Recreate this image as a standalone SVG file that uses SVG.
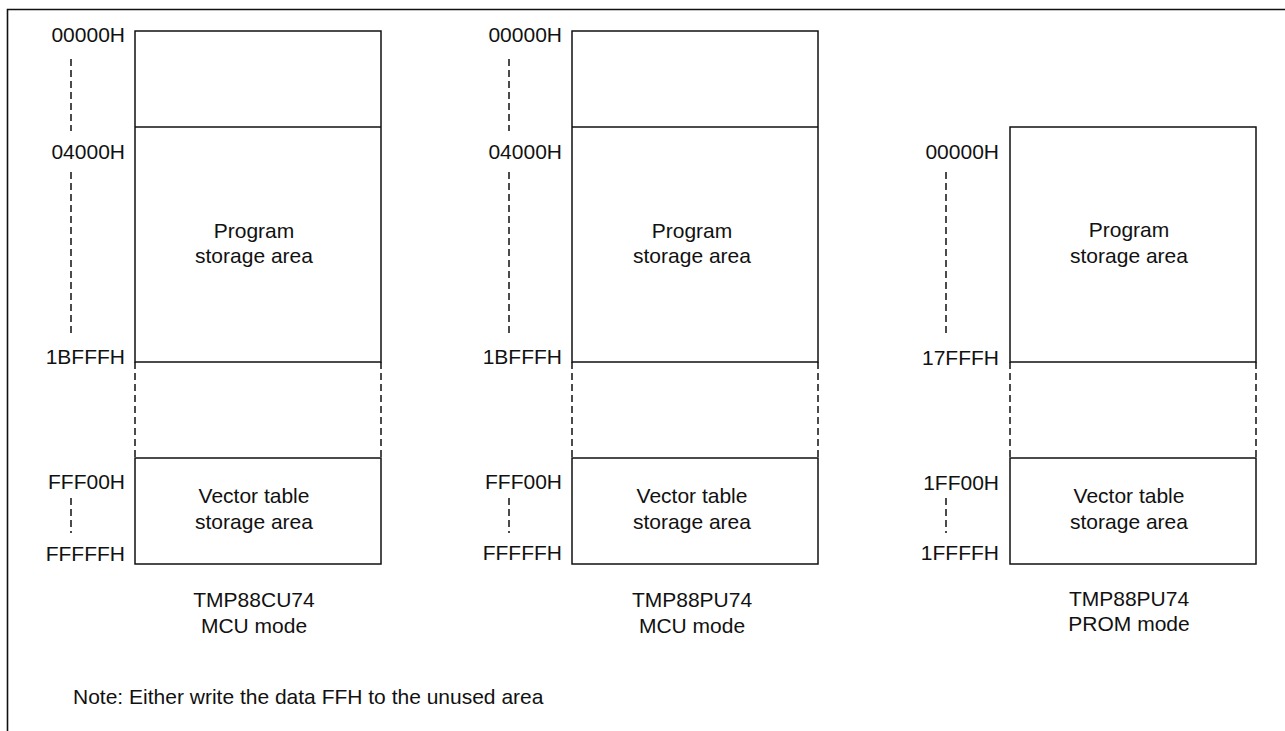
<svg xmlns="http://www.w3.org/2000/svg" width="1285" height="731" viewBox="0 0 1285 731">
<style>
text{font-family:"Liberation Sans",Arial,sans-serif;font-size:21px;fill:#111}
.r{text-anchor:end}
.c{text-anchor:middle}
.box{fill:none;stroke:#111;stroke-width:1.5}
.dash{fill:none;stroke:#111;stroke-width:1.5;stroke-dasharray:7 4}
.frame{fill:none;stroke:#111;stroke-width:1.6}
</style>
<rect width="1285" height="731" fill="#fff"/>
<path class="frame" d="M7.5 731V9.5H1285"/>

<g id="map1">
<rect class="box" x="135" y="31" width="246" height="331"/>
<line class="box" x1="135" y1="127" x2="381" y2="127"/>
<rect class="box" x="135" y="458" width="246" height="106"/>
<path class="dash" d="M135 362V458M381 362V458"/>
<path class="dash" d="M71 59V131M71 172V337M71 498V533"/>
<text class="r" x="125" y="42">00000H</text>
<text class="r" x="125" y="159">04000H</text>
<text class="r" x="125" y="364">1BFFFH</text>
<text class="r" x="125" y="489">FFF00H</text>
<text class="r" x="125" y="561">FFFFFH</text>
<text class="c" x="254" y="238">Program</text>
<text class="c" x="254" y="263">storage area</text>
<text class="c" x="254" y="503">Vector table</text>
<text class="c" x="254" y="529">storage area</text>
<text class="c" x="254" y="607">TMP88CU74</text>
<text class="c" x="254" y="633">MCU mode</text>
</g>

<g id="map2">
<rect class="box" x="572" y="31" width="246" height="331"/>
<line class="box" x1="572" y1="127" x2="818" y2="127"/>
<rect class="box" x="572" y="458" width="246" height="106"/>
<path class="dash" d="M572 362V458M818 362V458"/>
<path class="dash" d="M509 59V131M509 172V337M509 498V533"/>
<text class="r" x="562" y="42">00000H</text>
<text class="r" x="562" y="159">04000H</text>
<text class="r" x="562" y="364">1BFFFH</text>
<text class="r" x="562" y="489">FFF00H</text>
<text class="r" x="562" y="560">FFFFFH</text>
<text class="c" x="692" y="238">Program</text>
<text class="c" x="692" y="263">storage area</text>
<text class="c" x="692" y="503">Vector table</text>
<text class="c" x="692" y="529">storage area</text>
<text class="c" x="692" y="607">TMP88PU74</text>
<text class="c" x="692" y="633">MCU mode</text>
</g>

<g id="map3">
<rect class="box" x="1010" y="127" width="246" height="235"/>
<rect class="box" x="1010" y="458" width="246" height="106"/>
<path class="dash" d="M1010 362V458M1256 362V458"/>
<path class="dash" d="M946 172V337M946 498V533"/>
<text class="r" x="999" y="159">00000H</text>
<text class="r" x="999" y="365">17FFFH</text>
<text class="r" x="999" y="490">1FF00H</text>
<text class="r" x="999" y="560">1FFFFH</text>
<text class="c" x="1129" y="237">Program</text>
<text class="c" x="1129" y="263">storage area</text>
<text class="c" x="1129" y="503">Vector table</text>
<text class="c" x="1129" y="529">storage area</text>
<text class="c" x="1129" y="606">TMP88PU74</text>
<text class="c" x="1129" y="631">PROM mode</text>
</g>

<g id="note">
<text x="73" y="704">Note: Either write the data FFH to the unused area</text>
</g>
<g id="connectors"></g>
</svg>
